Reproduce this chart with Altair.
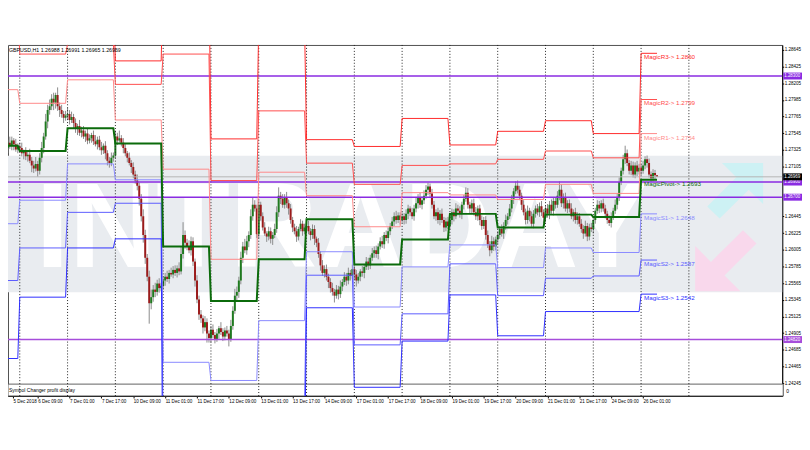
import altair as alt
import pandas as pd

# ---------------- data ----------------
days = ["5 Dec", "6 Dec", "7 Dec", "10 Dec", "11 Dec", "12 Dec", "13 Dec", "14 Dec",
        "17 Dec", "18 Dec", "19 Dec", "20 Dec", "21 Dec", "24 Dec", "26 Dec", "27 Dec"]

# hourly closes in pips (12735 -> 1.2735)
close_05 = [12735, 12742, 12738, 12745, 12740, 12733, 12737]
close_06 = [12735, 12728, 12730, 12724, 12726, 12718, 12712, 12708, 12714, 12705, 12722, 12735,
            12750, 12770, 12785, 12790, 12800, 12795, 12805, 12790, 12785, 12780, 12775, 12778]
close_07 = [12780, 12772, 12776, 12768, 12760, 12764, 12755, 12758, 12750, 12754, 12745, 12748,
            12752, 12744, 12740, 12746, 12736, 12732, 12738, 12728, 12718, 12715, 12722, 12725]
close_10 = [12750, 12745, 12748, 12742, 12735, 12728, 12722, 12715, 12710, 12700, 12692, 12685,
            12668, 12645, 12620, 12590, 12565, 12530, 12538, 12548, 12545, 12556, 12550, 12553]
close_11 = [12560, 12565, 12562, 12570, 12568, 12574, 12570, 12576, 12572, 12595, 12620, 12610,
            12605, 12600, 12612, 12585, 12560, 12535, 12515, 12510, 12498, 12505, 12490, 12484]
close_12 = [12495, 12488, 12482, 12490, 12497, 12492, 12486, 12494, 12490, 12482, 12500, 12520,
            12540, 12545, 12560, 12590, 12605, 12600, 12612, 12620, 12645, 12660, 12655, 12621]
close_13 = [12660, 12645, 12630, 12622, 12618, 12625, 12615, 12620, 12628, 12650, 12672, 12668,
            12660, 12670, 12662, 12655, 12640, 12630, 12625, 12618, 12628, 12635, 12625, 12630]
close_14 = [12632, 12625, 12620, 12628, 12615, 12610, 12595, 12580, 12570, 12575, 12565, 12558,
            12550, 12545, 12540, 12548, 12542, 12552, 12558, 12565, 12560, 12570, 12566, 12575]
close_17 = [12568, 12560, 12565, 12572, 12570, 12578, 12585, 12580, 12590, 12596, 12600, 12595,
            12605, 12612, 12608, 12620, 12616, 12625, 12632, 12638, 12645, 12640, 12646, 12640]
close_18 = [12645, 12640, 12648, 12655, 12650, 12645, 12655, 12662, 12670, 12660, 12666, 12672,
            12680, 12684, 12675, 12660, 12645, 12650, 12640, 12648, 12640, 12630, 12638, 12632]
close_19 = [12640, 12650, 12645, 12655, 12652, 12648, 12660, 12668, 12676, 12660, 12655, 12662,
            12650, 12645, 12655, 12640, 12632, 12640, 12620, 12608, 12600, 12612, 12605, 12614]
close_20 = [12620, 12628, 12622, 12632, 12640, 12645, 12655, 12668, 12678, 12685, 12680, 12672,
            12660, 12650, 12640, 12652, 12645, 12635, 12648, 12655, 12650, 12658, 12650, 12643]
close_21 = [12655, 12648, 12660, 12652, 12665, 12660, 12672, 12680, 12662, 12670, 12655, 12662,
            12655, 12645, 12650, 12640, 12645, 12635, 12628, 12622, 12632, 12618, 12630, 12628]
close_24 = [12640, 12652, 12660, 12655, 12662, 12655, 12648, 12640, 12636, 12645, 12652, 12660,
            12670, 12690, 12705, 12720, 12728, 12715, 12705, 12712, 12700, 12712, 12704, 12709]
close_26 = [12705, 12712, 12720, 12715, 12700, 12695, 12702, 12699, 12697]

# upper / lower wick lengths in pips
up_05 = [6, 4, 8, 5, 3, 7, 4]
dn_05 = [5, 7, 4, 6, 8, 3, 5]
up_06 = [5, 7, 3, 6, 4, 8, 5, 6, 9, 4, 6, 8, 5, 10, 7, 9, 6, 8, 3, 10, 5, 7, 4, 6]
dn_06 = [6, 4, 8, 5, 7, 3, 9, 6, 4, 8, 5, 6, 7, 4, 9, 6, 5, 10, 8, 6, 9, 5, 7, 4]
up_07 = [8, 5, 7, 4, 6, 3, 8, 5, 6, 4, 7, 5, 3, 6, 8, 4, 5, 7, 3, 6, 4, 5, 7, 4]
dn_07 = [5, 6, 4, 7, 5, 8, 4, 6, 3, 7, 5, 4, 6, 5, 3, 7, 4, 6, 5, 8, 6, 6, 4, 5]
up_10 = [8, 5, 10, 4, 6, 5, 3, 7, 4, 6, 5, 8, 4, 6, 9, 7, 5, 8, 10, 6, 9, 5, 7, 4]
dn_10 = [4, 6, 3, 5, 7, 4, 6, 3, 8, 5, 4, 6, 9, 7, 10, 8, 6, 27, 8, 6, 7, 5, 6, 4]
up_11 = [6, 5, 8, 4, 7, 5, 6, 4, 8, 10, 17, 6, 5, 8, 6, 5, 4, 7, 5, 6, 4, 8, 5, 4]
dn_11 = [5, 7, 4, 6, 3, 5, 4, 6, 5, 4, 6, 8, 5, 4, 7, 6, 8, 5, 7, 6, 8, 5, 12, 6]
up_12 = [5, 7, 4, 6, 3, 8, 5, 4, 6, 5, 8, 6, 9, 7, 5, 8, 6, 10, 7, 5, 9, 9, 6, 5]
dn_12 = [6, 4, 5, 3, 7, 4, 6, 5, 4, 9, 3, 5, 4, 6, 8, 5, 7, 4, 6, 8, 5, 6, 4, 5]
up_13 = [6, 4, 5, 7, 3, 6, 5, 4, 7, 8, 11, 5, 6, 4, 7, 5, 6, 4, 5, 7, 3, 6, 4, 5]
dn_13 = [5, 6, 4, 3, 7, 5, 6, 8, 4, 5, 6, 7, 4, 5, 6, 8, 5, 6, 4, 7, 5, 3, 6, 4]
up_14 = [5, 7, 4, 6, 5, 3, 6, 4, 7, 5, 6, 4, 5, 7, 4, 6, 5, 8, 4, 6, 5, 7, 4, 6]
dn_14 = [6, 4, 7, 5, 8, 6, 5, 7, 4, 6, 5, 8, 6, 5, 9, 4, 7, 5, 6, 4, 7, 5, 6, 4]
up_17 = [4, 6, 5, 3, 7, 4, 6, 5, 4, 7, 5, 6, 4, 5, 7, 4, 6, 5, 4, 6, 5, 7, 4, 4]
dn_17 = [7, 8, 4, 6, 5, 7, 4, 6, 5, 4, 6, 5, 7, 4, 5, 6, 4, 7, 5, 4, 6, 5, 4, 6]
up_18 = [5, 4, 6, 5, 3, 6, 5, 7, 4, 6, 5, 7, 6, 5, 4, 6, 5, 4, 6, 5, 7, 4, 5, 6]
dn_18 = [4, 6, 5, 7, 5, 4, 6, 5, 7, 4, 6, 5, 4, 7, 6, 5, 4, 6, 5, 7, 4, 6, 5, 4]
up_19 = [6, 5, 4, 7, 5, 6, 4, 5, 7, 6, 4, 5, 6, 7, 4, 5, 6, 4, 5, 6, 4, 7, 5, 4]
dn_19 = [5, 6, 7, 4, 6, 5, 7, 6, 4, 5, 7, 6, 4, 5, 6, 7, 5, 4, 6, 5, 8, 4, 6, 5]
up_20 = [5, 4, 6, 5, 7, 4, 6, 5, 4, 6, 7, 5, 4, 6, 5, 7, 4, 6, 5, 4, 6, 5, 7, 4]
dn_20 = [6, 5, 4, 7, 5, 6, 4, 5, 7, 4, 5, 6, 7, 4, 6, 5, 7, 4, 6, 5, 4, 6, 5, 7]
up_21 = [4, 6, 5, 7, 4, 5, 6, 11, 7, 5, 6, 4, 5, 7, 4, 6, 5, 4, 6, 5, 7, 4, 5, 6]
dn_21 = [6, 5, 7, 4, 6, 5, 4, 6, 5, 7, 4, 6, 5, 4, 7, 5, 6, 4, 5, 7, 4, 6, 5, 4]
up_24 = [5, 4, 6, 5, 4, 6, 5, 4, 6, 5, 4, 7, 5, 6, 4, 6, 10, 5, 4, 6, 5, 4, 6, 5]
dn_24 = [6, 5, 4, 6, 5, 4, 6, 5, 4, 6, 5, 4, 6, 5, 4, 5, 6, 4, 5, 6, 4, 5, 6, 4]
up_26 = [5, 6, 4, 5, 6, 4, 5, 4, 0]
dn_26 = [6, 4, 5, 6, 4, 5, 4, 6, 0]

closes = [close_05, close_06, close_07, close_10, close_11, close_12, close_13, close_14,
          close_17, close_18, close_19, close_20, close_21, close_24, close_26]
wick_up = [up_05, up_06, up_07, up_10, up_11, up_12, up_13, up_14,
           up_17, up_18, up_19, up_20, up_21, up_24, up_26]
wick_dn = [dn_05, dn_06, dn_07, dn_10, dn_11, dn_12, dn_13, dn_14,
           dn_17, dn_18, dn_19, dn_20, dn_21, dn_24, dn_26]

# daily Magic pivot levels (pips), one value per day 5 Dec .. 26 Dec
R3 = [12990, 12922, 12936, 12850, 12961, 12747, 12898, 12746, 12737, 12774, 12739, 12757, 12771, 12754, 12860]
R2 = [12915, 12859, 12872, 12819, 12859, 12692, 12784, 12715, 12687, 12712, 12714, 12720, 12731, 12722, 12799]
R1 = [12812, 12794, 12825, 12772, 12707, 12588, 12703, 12672, 12631, 12676, 12673, 12667, 12687, 12675, 12754]
PP = [12738, 12731, 12761, 12741, 12605, 12533, 12588, 12641, 12581, 12614, 12648, 12630, 12647, 12644, 12693]
S1 = [12635, 12666, 12714, 12693, 12452, 12428, 12507, 12598, 12525, 12578, 12607, 12577, 12603, 12597, 12648]
S2 = [12560, 12603, 12650, 12662, 12350, 12374, 12392, 12567, 12475, 12516, 12582, 12540, 12563, 12566, 12587]
S3 = [12457, 12538, 12603, 12615, 12197, 12269, 12311, 12524, 12419, 12480, 12541, 12487, 12519, 12519, 12542]
level_names = ["R3", "R2", "R1", "Pivot", "S1", "S2", "S3"]
level_colors = ["#ff2a2a", "#ff4d4d", "#ff8a8a", "#0b6b0b", "#8a8aff", "#5c5cff", "#2e2eff"]
label_colors = ["#ff3030", "#ff3030", "#ff3030", "#1a7a1a", "#3a3aff", "#3a3aff", "#3a3aff"]

purple_levels = [1.28300, 1.26900, 1.26700, 1.24820]
purple_colors = ["#8a2be2", "#8a2be2", "#8a2be2", "#a64ddb"]
bid_price = 1.26969
header = "GBPUSD,H1  1.26988 1.26991 1.26965 1.26969"

y_ticks = [1.28645, 1.28425, 1.28205, 1.27985, 1.27765, 1.27545, 1.27325, 1.27105,
           1.26445, 1.26225, 1.26005, 1.25785, 1.25565, 1.25345, 1.25125, 1.24905,
           1.24685, 1.24465, 1.24245]
x_tick_bars = [-3.4, 9, 25, 41, 57, 73, 89, 105, 121, 137, 153, 169, 185, 201, 217, 233, 249,
               265, 281, 297, 313]
x_tick_labels = ["5 Dec 2018", "6 Dec 09:00", "7 Dec 01:00", "7 Dec 17:00", "10 Dec 09:00",
                 "11 Dec 01:00", "11 Dec 17:00", "12 Dec 09:00", "13 Dec 01:00", "13 Dec 17:00",
                 "14 Dec 09:00", "17 Dec 01:00", "17 Dec 17:00", "18 Dec 09:00", "19 Dec 01:00",
                 "19 Dec 17:00", "20 Dec 09:00", "21 Dec 01:00", "21 Dec 17:00", "24 Dec 09:00",
                 "26 Dec 01:00"]

# ---------------- tables ----------------
HOURS = 24
rows = []
prev = None
for di, (cl, up, dn) in enumerate(zip(closes, wick_up, wick_dn)):
    k = di - 1
    start = HOURS * k if k >= 0 else -len(cl)
    for i, c in enumerate(cl):
        o = prev if prev is not None else c
        rows.append(dict(t=start + i, open=o / 1e4, close=c / 1e4,
                         high=(max(o, c) + up[i]) / 1e4, low=(min(o, c) - dn[i]) / 1e4))
        prev = c
candles = pd.DataFrame(rows)
last_t = int(candles.t.max())

lv_rows = []
lab_rows = []
for name, vals in zip(level_names, [R3, R2, R1, PP, S1, S2, S3]):
    for di, v in enumerate(vals):
        k = di - 1
        t0 = HOURS * k
        t1 = min(HOURS * k + HOURS - 1, last_t)
        lv_rows.append(dict(level=name, t=t0, v=v / 1e4))
        lv_rows.append(dict(level=name, t=t1, v=v / 1e4))
    lab_rows.append(dict(level=name, t=HOURS * (len(vals) - 2), v=vals[-1] / 1e4,
                         text=f"Magic{name}-> {vals[-1] / 1e4:.4f}"))
levels = pd.DataFrame(lv_rows)
labels = pd.DataFrame(lab_rows)
seps = pd.DataFrame({"t": [HOURS * k for k in range(len(days) - 1)]})
purp = pd.DataFrame({"p": purple_levels, "c": purple_colors,
                     "txt": [f"{p:.5f}" for p in purple_levels]})
bid = pd.DataFrame({"p": [bid_price], "txt": [f"{bid_price:.5f}"]})
one = pd.DataFrame({"a": [0]})

# ---------------- scales / axes ----------------
W, H = 783, 355
xs = alt.Scale(domain=[-3.431, 380.39], nice=False, zero=False)
ys = alt.Scale(domain=[1.240752, 1.287103], nice=False, zero=False)
FONT = "Liberation Sans"

label_expr = ("[" + ",".join("'" + s + "'" for s in x_tick_labels) + "][indexof(["
              + ",".join(str(v) for v in x_tick_bars) + "], datum.value)]")
x_axis = alt.Axis(values=x_tick_bars, labelExpr=label_expr, orient="bottom", labelAlign="left",
                  labelFont=FONT, labelFontSize=4.6, labelColor="black", tickSize=2,
                  tickColor="black", domainColor="black", labelPadding=1, grid=False,
                  title=None, labelOverlap=False, labelBound=False, labelFlush=False)
y_axis = alt.Axis(values=y_ticks, format=".5f", orient="right", labelFont=FONT,
                  labelFontSize=4.6, labelColor="black", tickSize=1.5, tickColor="black",
                  domainColor="black", labelPadding=0.5, grid=False, title=None,
                  labelOverlap=False, labelBound=False, labelFlush=False)


def X(field):
    return alt.X(field, scale=xs, axis=x_axis)


def Y(field):
    return alt.Y(field, scale=ys, axis=y_axis)


base1 = alt.Chart(one)

band = base1.mark_rect(color="#e9ecf0").encode(
    x=alt.value(0), x2=alt.value(W), y=alt.value(112), y2=alt.value(250))
logo = base1.mark_text(text="INTRADAY", font=FONT, fontWeight="bold", fontSize=122,
                       color="#ffffff", align="left", baseline="alphabetic").encode(
    x=alt.value(28), y=alt.value(225))
ne_arrow = "M1,-1 L1,0.2 L0.58,-0.22 L-0.27,0.62 L-0.63,0.27 L0.22,-0.58 L-0.2,-1 Z"
sw_arrow = "M-1,1 L-1,-0.2 L-0.58,0.22 L0.27,-0.62 L0.63,-0.27 L-0.22,0.58 L0.2,1 Z"
arrow1 = base1.mark_point(shape=ne_arrow, filled=True, size=4800, color="#cdf1f4",
                          opacity=1, strokeWidth=0).encode(x=alt.value(729), y=alt.value(154))
arrow2 = base1.mark_point(shape=sw_arrow, filled=True, size=5800, color="#f9d8ec",
                          opacity=1, strokeWidth=0).encode(x=alt.value(733), y=alt.value(211))

subwin = base1.mark_rect(fill="white", stroke="#606060", strokeWidth=1).encode(
    x=alt.value(0), x2=alt.value(784), y=alt.value(343), y2=alt.value(355))
subtxt = base1.mark_text(text="Symbol Changer profit display", font=FONT, fontSize=5,
                         align="left", baseline="middle", color="black").encode(
    x=alt.value(1), y=alt.value(349))
subzero = base1.mark_text(text="0", font=FONT, fontSize=5, align="left", baseline="middle",
                          color="black").encode(x=alt.value(787), y=alt.value(350))
head = base1.mark_text(text=header, font=FONT, fontSize=5.3, align="left", baseline="middle",
                       color="black").encode(x=alt.value(1), y=alt.value(5))

wick = alt.Chart(candles).mark_rule(color="#8c8c8c", strokeWidth=1, clip=True).encode(
    x=X("t:Q"), y=Y("low:Q"), y2="high:Q")
body = alt.Chart(candles).mark_bar(size=2, clip=True).encode(
    x=X("t:Q"), y=Y("open:Q"), y2="close:Q",
    color=alt.condition("datum.close >= datum.open", alt.value("#1f7a1f"), alt.value("#9b1b1b")))

sep = alt.Chart(seps).mark_rule(color="#222222", strokeDash=[1, 2], strokeWidth=1).encode(
    x=X("t:Q"))

plines = alt.Chart(purp).mark_rule(strokeWidth=1.5).encode(
    y=Y("p:Q"), color=alt.Color("c:N", scale=None))
bidline = alt.Chart(bid).mark_rule(color="#b4b4b4", strokeWidth=1).encode(y=Y("p:Q"))

lv_rs = levels[levels.level != "Pivot"]
lv_p = levels[levels.level == "Pivot"]
col = alt.Color("level:N", scale=alt.Scale(domain=level_names, range=level_colors), legend=None)
rs_lines = alt.Chart(lv_rs).mark_line(strokeWidth=1, clip=True).encode(
    x=X("t:Q"), y=Y("v:Q"), color=col, detail="level:N", order="t:Q")
p_line = alt.Chart(lv_p).mark_line(strokeWidth=2, clip=True, color="#0b6b0b").encode(
    x=X("t:Q"), y=Y("v:Q"), order="t:Q")

lab = alt.Chart(labels).mark_text(font=FONT, fontSize=6.3, align="left", baseline="middle",
                                  dx=3, dy=4).encode(
    x=X("t:Q"), y=Y("v:Q"), text="text:N",
    color=alt.Color("level:N", scale=alt.Scale(domain=level_names, range=label_colors),
                    legend=None))

pbox = alt.Chart(purp).mark_rule(strokeWidth=7).encode(
    x=alt.value(784), x2=alt.value(803), y=Y("p:Q"), color=alt.Color("c:N", scale=None))
ptxt = alt.Chart(purp).mark_text(font=FONT, fontSize=4.5, align="left", baseline="middle",
                                 color="white").encode(
    x=alt.value(785), y=Y("p:Q"), text="txt:N")
bbox = alt.Chart(bid).mark_rule(strokeWidth=7, color="black").encode(
    x=alt.value(784), x2=alt.value(803), y=Y("p:Q"))
btxt = alt.Chart(bid).mark_text(font=FONT, fontSize=4.5, align="left", baseline="middle",
                                color="white").encode(
    x=alt.value(785), y=Y("p:Q"), text="txt:N")

chart = alt.layer(
    band, logo, arrow1, arrow2, subwin, subtxt, subzero, wick, body, sep, plines, bidline,
    rs_lines, p_line, lab, head, pbox, ptxt, bbox, btxt
).properties(
    width=W, height=H,
    padding={"left": 0, "top": 35, "right": 20, "bottom": 30},
    autosize=alt.AutoSizeParams(type="none"),
    background="white",
).configure_view(stroke="#505050", strokeWidth=1)

chart.save("out.html", embed_options={"renderer": "svg", "actions": False})
